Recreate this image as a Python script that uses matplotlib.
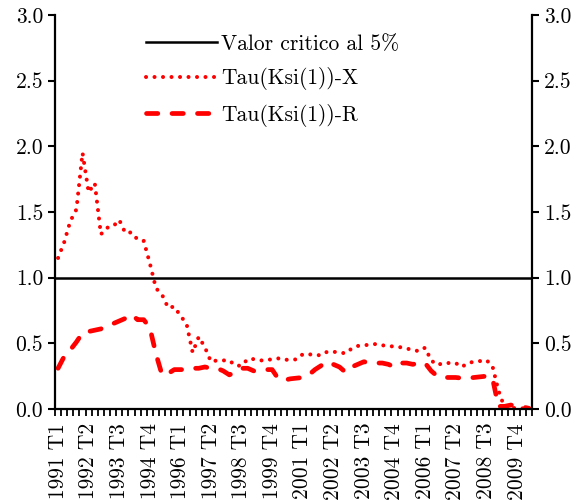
import numpy as np
import matplotlib
matplotlib.use("Agg")
import matplotlib.pyplot as plt

plt.rcParams['font.family'] = ['cmr10', 'DejaVu Serif']
plt.rcParams['axes.formatter.use_mathtext'] = True

# quarters 1991 T1 .. 2010 T2
years = list(range(1991, 2011))
quarters = [f"{y} T{q}" for y in years for q in range(1, 5)][:78]

tau_x = [1.15, 1.27, 1.43, 1.52, 1.95, 1.65, 1.72, 1.33, 1.38, 1.39,
         1.44, 1.34, 1.345, 1.29, 1.28, 1.11, 0.92, 0.87, 0.77, 0.78,
         0.71, 0.65, 0.43, 0.55, 0.47, 0.36, 0.37, 0.37, 0.37, 0.33,
         0.33, 0.38, 0.38, 0.37, 0.37, 0.38, 0.385, 0.375, 0.375, 0.378,
         0.417, 0.417, 0.41, 0.41, 0.436, 0.436, 0.43, 0.424, 0.46, 0.48,
         0.485, 0.49, 0.495, 0.485, 0.48, 0.475, 0.47, 0.46, 0.45, 0.44,
         0.467, 0.37, 0.335, 0.35, 0.35, 0.35, 0.32, 0.35, 0.36, 0.365,
         0.373, 0.33, 0.14, 0.01, 0.01, 0.005, 0.005, 0.0]

tau_r = [0.31, 0.40, 0.45, 0.51, 0.58, 0.59, 0.60, 0.61, 0.63, 0.65,
         0.67, 0.69, 0.72, 0.68, 0.68, 0.62, 0.42, 0.26, 0.27, 0.30,
         0.30, 0.30, 0.31, 0.31, 0.32, 0.31, 0.31, 0.29, 0.26, 0.28,
         0.31, 0.31, 0.29, 0.29, 0.30, 0.30, 0.23, 0.22, 0.23, 0.235,
         0.24, 0.26, 0.30, 0.33, 0.36, 0.34, 0.32, 0.28, 0.32, 0.34,
         0.36, 0.35, 0.35, 0.35, 0.34, 0.32, 0.35, 0.35, 0.34, 0.35,
         0.35, 0.29, 0.25, 0.24, 0.24, 0.24, 0.235, 0.235, 0.24, 0.245,
         0.25, 0.24, 0.02, 0.02, 0.03, 0.025, 0.015, 0.005]

critical = 1.0

fig = plt.figure(figsize=(5.79, 5.00), dpi=100)
ax = fig.add_axes([0.095, 0.182, 0.824, 0.788])

x = np.arange(len(quarters))
ax.axhline(critical, color='black', lw=1.8, label='Valor critico al 5%')
ax.plot(x, tau_x, color='red', lw=2.9, dashes=(0.01, 2.1), dash_capstyle='round',
        label='Tau(Ksi(1))-X')
ax.plot(x, tau_r, color='red', lw=3.4, dashes=(2.4, 3.0), dash_capstyle='round',
        label='Tau(Ksi(1))-R')

ax.set_xlim(-0.5, len(quarters) - 0.5)
ax.set_ylim(0, 3.0)
ax.set_yticks(np.arange(0, 3.01, 0.5))
ax.set_yticklabels([f"{v:.1f}" for v in np.arange(0, 3.01, 0.5)])

ax.set_xticks(x[::5])
ax.set_xticklabels(quarters[::5], rotation=90)
ax.set_xticks(np.arange(-0.5, len(quarters)), minor=True)
ax.tick_params(axis='x', which='major', length=0, labelsize=15.5, pad=10)
ax.tick_params(axis='x', which='minor', length=5, width=1.3, direction='out')
ax.tick_params(axis='y', which='major', length=5, width=1.5, direction='out',
               labelsize=15.5, right=True, labelright=True)

ax.spines['top'].set_visible(False)
for s in ['left', 'right', 'bottom']:
    ax.spines[s].set_linewidth(1.6)

leg = ax.legend(loc='upper left', bbox_to_anchor=(0.15, 1.0), frameon=False,
                fontsize=15.5, handlelength=3.3, handletextpad=0.2,
                labelspacing=0.62, borderaxespad=0.5)

fig.savefig('out.png', dpi=100)
